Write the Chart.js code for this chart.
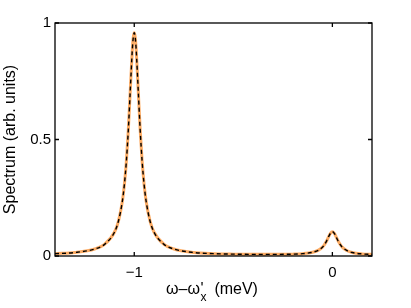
<!DOCTYPE html>
<html>
<head>
<meta charset="utf-8">
<script src="https://cdn.jsdelivr.net/npm/chart.js@4.4.1/dist/chart.umd.min.js"></script>
<style>
  html, body { margin: 0; padding: 0; background: #fff; }
  #wrap { width: 411px; height: 308px; }
</style>
</head>
<body>
<div id="wrap"><canvas id="spectrumChart" width="411" height="308"></canvas></div>
<script>
// values
const omega = [-1.4, -1.3, -1.2, -1.15, -1.1, -1.08, -1.06, -1.05, -1.04, -1.03, -1.02, -1.01, -1.005, -1,
    -0.995, -0.99, -0.98, -0.97, -0.96, -0.95, -0.94, -0.92, -0.9, -0.85, -0.8, -0.7, -0.6, -0.5, -0.4,
    -0.3, -0.2, -0.15, -0.1, -0.07, -0.05, -0.04, -0.03, -0.02, -0.01, 0, 0.01, 0.02, 0.03, 0.04, 0.05,
    0.07, 0.1, 0.15, 0.2];
const spectrum = [0.010, 0.015, 0.030, 0.050, 0.102, 0.149, 0.235, 0.305, 0.404, 0.540, 0.712, 0.882, 0.938, 0.958,
    0.938, 0.882, 0.713, 0.540, 0.404, 0.305, 0.235, 0.149, 0.102, 0.050, 0.030, 0.015, 0.010, 0.008, 0.007,
    0.007, 0.008, 0.010, 0.016, 0.025, 0.038, 0.049, 0.063, 0.081, 0.097, 0.104, 0.097, 0.080, 0.063, 0.049, 0.038,
    0.025, 0.015, 0.009, 0.007];
const xTicks = [-1, 0];
const yTicks = [0, 0.5, 1];
const yTickLabels = ["0", "0.5", "1"];

const FONT = "'Liberation Sans', Arial, sans-serif";
const points = omega.map((x, i) => ({ x: x, y: spectrum[i] }));

// box around the axes with inward ticks (matlab style)
const boxPlugin = {
    id: "box",
    afterDraw(chart) {
        const ctx = chart.ctx;
        const a = chart.chartArea;
        const xs = chart.scales.x, ys = chart.scales.y;
        ctx.save();
        ctx.strokeStyle = "#000";
        ctx.lineWidth = 1.3;
        ctx.strokeRect(a.left, a.top, a.right - a.left, a.bottom - a.top);
        ctx.beginPath();
        xTicks.forEach(v => {
            const px = xs.getPixelForValue(v);
            ctx.moveTo(px, a.bottom); ctx.lineTo(px, a.bottom - 4);
            ctx.moveTo(px, a.top); ctx.lineTo(px, a.top + 4);
        });
        yTicks.forEach(v => {
            const py = ys.getPixelForValue(v);
            ctx.moveTo(a.left, py); ctx.lineTo(a.left + 4, py);
            ctx.moveTo(a.right, py); ctx.lineTo(a.right - 4, py);
        });
        ctx.stroke();

        // x axis title with subscript
        ctx.fillStyle = "#000";
        ctx.textBaseline = "alphabetic";
        ctx.textAlign = "left";
        ctx.font = "16px " + FONT;
        const x0 = 166;
        const base = 294;
        const part1 = "\u03c9\u2013\u03c9";
        ctx.fillText(part1, x0, base);
        const w1 = ctx.measureText(part1).width;
        ctx.fillText("'", x0 + w1 + 0.5, base);
        ctx.font = "12px " + FONT;
        ctx.fillText("x", x0 + w1 + 0.5, base + 7);
        const xEnd = x0 + w1 + 0.5 + ctx.measureText("x").width;
        ctx.font = "16px " + FONT;
        ctx.fillText("(meV)", xEnd + 8, base);
        ctx.restore();
    }
};

const ctx = document.getElementById("spectrumChart").getContext("2d");
new Chart(ctx, {
    type: "line",
    data: {
        datasets: [
            {
                data: points,
                borderColor: "#000",
                borderWidth: 1.4,
                borderDash: [4, 3],
                pointRadius: 0,
                cubicInterpolationMode: "monotone",
                order: 0
            },
            {
                data: points,
                borderColor: "rgb(253, 172, 100)",
                borderWidth: 3,
                pointRadius: 0,
                cubicInterpolationMode: "monotone",
                order: 1
            }
        ]
    },
    options: {
        responsive: false,
        animation: false,
        devicePixelRatio: 1,
        layout: { padding: { top: 23, right: 39, left: 0, bottom: 0 } },
        plugins: { legend: { display: false }, tooltip: { enabled: false } },
        scales: {
            x: {
                type: "linear",
                min: -1.4,
                max: 0.2,
                afterBuildTicks: s => { s.ticks = xTicks.map(v => ({ value: v })); },
                afterFit: s => { s.height = 52; },
                grid: { display: false, drawTicks: false },
                border: { display: false },
                ticks: {
                    color: "#000",
                    padding: 8,
                    maxRotation: 0,
                    font: { family: FONT, size: 15 },
                    callback: v => (v < 0 ? "\u2212" + Math.abs(v) : String(v))
                }
            },
            y: {
                min: 0,
                max: 1,
                afterBuildTicks: s => { s.ticks = yTicks.map(v => ({ value: v })); },
                afterFit: s => { s.width = 55; },
                grid: { display: false, drawTicks: false },
                border: { display: false },
                ticks: {
                    color: "#000",
                    padding: 4,
                    font: { family: FONT, size: 15 },
                    callback: (v, i) => yTickLabels[i]
                },
                title: {
                    display: true,
                    text: "Spectrum (arb. units)",
                    color: "#000",
                    padding: { top: 1, bottom: 0 },
                    font: { family: FONT, size: 16 }
                }
            }
        }
    },
    plugins: [boxPlugin]
});
</script>
</body>
</html>
